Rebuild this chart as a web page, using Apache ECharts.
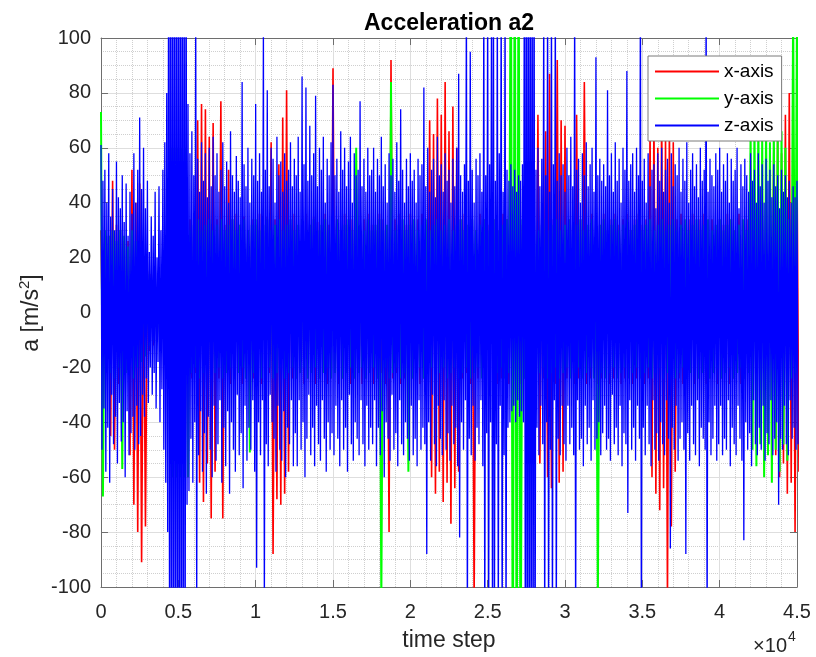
<!DOCTYPE html>
<html><head><meta charset="utf-8">
<script src="https://cdn.jsdelivr.net/npm/echarts@6/dist/echarts.min.js"></script>
<style>html,body{margin:0;padding:0;background:#fff}#c{width:816px;height:657px}</style>
</head><body><div id="c"></div>
<script>
// time steps between envelope samples (each sample: a peak, then a trough half a step later)
const zStep = 125;   // z-axis samples
const xyStep = 250;  // x-axis / y-axis samples
const xTickLabels = ['0','0.5','1','1.5','2','2.5','3','3.5','4','4.5'];
const seriesNames = ['x-axis','y-axis','z-axis'];
const seriesColors = ['#ff0000','#00ff00','#0000ff'];

// z-axis (blue) peaks / troughs, one value every 125 time steps
const zHi = [61,48,52,40,58,35,45,30,55,42,38,50,33,47,28,44,36,58,40,52,
 71,45,60,38,48,22,35,28,44,20,46,30,52,62,80,150,150,150,150,150,
 150,150,150,150,150,76,58,66,50,110,56,44,62,48,58,42,60,46,64,50,
 58,44,52,62,46,55,40,66,50,44,57,48,42,84,54,46,60,40,56,50,
 76,48,58,44,105,52,81,46,60,56,40,64,50,55,44,58,48,52,62,46,
 56,50,64,44,86,54,82,48,68,50,58,79,46,60,52,64,40,56,50,62,
 83,50,56,44,66,52,60,46,55,64,40,58,50,52,77,46,56,44,60,50,
 52,60,44,56,50,64,46,54,40,58,50,56,44,62,48,74,52,40,56,46,
 58,48,52,40,56,50,54,82,46,60,44,52,56,42,64,50,54,44,58,48,
 52,40,56,46,60,87,50,44,54,120,48,95,52,40,56,50,58,44,120,50,
 120,54,120,120,48,120,58,120,44,120,52,48,54,46,52,44,50,48,54,150,
 150,150,150,150,150,52,60,46,56,120,50,120,44,120,54,120,48,58,50,54,
 44,60,50,64,46,120,52,56,40,58,50,62,46,54,60,44,93,50,56,48,
 54,46,81,50,58,44,62,48,56,40,60,52,88,48,54,58,44,60,50,120,
 48,56,40,58,46,52,54,38,58,48,60,44,52,56,40,58,46,54,50,60,
 44,56,48,62,40,52,58,46,54,42,60,48,52,120,44,56,50,46,58,52,
 60,44,54,48,58,40,56,48,52,60,38,54,46,56,50,44,58,48,52,40,
 58,46,54,40,56,48,52,42,54,46,50,38,52,44,50,42,48,40,46,42,
 48];
const zLo = [-50,-35,-58,-42,-62,-30,-48,-38,-55,-33,-47,-40,-60,-36,-52,-44,-38,-50,-34,-48,
 -45,-30,-38,-24,-33,-20,-30,-22,-35,-18,-40,-28,-50,-62,-80,-150,-150,-150,-150,-150,
 -150,-150,-150,-150,-70,-65,-46,-62,-40,-110,-52,-36,-58,-44,-66,-38,-50,-60,-34,-54,
 -48,-32,-62,-42,-56,-36,-66,-40,-50,-58,-30,-52,-44,-64,-34,-54,-42,-50,-32,-58,
 -93,-40,-52,-32,-110,-48,-56,-30,-40,-46,-58,-34,-50,-54,-36,-60,-42,-48,-32,-56,
 -44,-56,-32,-50,-40,-60,-46,-30,-52,-42,-56,-34,-48,-54,-32,-46,-58,-40,-50,-44,
 -52,-34,-46,-56,-32,-50,-42,-58,-30,-48,-54,-40,-46,-52,-32,-48,-56,-34,-50,-42,
 -48,-32,-56,-42,-52,-36,-60,-40,-46,-54,-30,-50,-44,-56,-32,-48,-52,-40,-46,-54,
 -34,-52,-46,-56,-32,-50,-42,-48,-88,-40,-54,-30,-48,-56,-34,-46,-52,-32,-50,-44,
 -54,-34,-48,-42,-56,-82,-40,-50,-32,-120,-46,-52,-34,-54,-42,-48,-32,-56,-120,-44,
 -120,-40,-120,-120,-48,-120,-34,-120,-52,-120,-42,-40,-36,-34,-40,-32,-38,-36,-40,-150,
 -150,-150,-150,-150,-150,-42,-52,-34,-48,-120,-40,-120,-50,-120,-32,-120,-46,-52,-34,-48,
 -54,-34,-48,-42,-52,-120,-32,-50,-46,-56,-34,-48,-42,-54,-32,-50,-46,-40,-52,-44,
 -34,-50,-46,-54,-30,-48,-42,-52,-34,-56,-44,-48,-73,-32,-50,-42,-54,-34,-46,-120,
 -42,-52,-34,-48,-56,-32,-50,-44,-54,-40,-48,-52,-32,-46,-86,-42,-50,-34,-54,-46,
 -40,-50,-88,-44,-54,-34,-48,-52,-32,-56,-42,-46,-50,-120,-40,-52,-46,-34,-54,-48,
 -34,-52,-46,-50,-32,-56,-42,-48,-52,-34,-46,-54,-83,-40,-50,-44,-56,-32,-48,-52,
 -42,-50,-34,-54,-44,-48,-32,-52,-46,-40,-70,-46,-50,-34,-48,-52,-32,-46,-42,-50,
 -48];

// x-axis (red), one value every 250 time steps
const xHi = [30,28,28,48,32,30,26,26,52,40,
 47,20,15,14,12,15,14,20,60,60,
 60,60,60,34,36,70,76,74,64,69,
 34,77,32,52,34,36,32,35,30,34,
 32,36,30,35,62,34,54,71,81,32,
 36,30,34,36,32,35,33,30,36,32,
 89,34,30,36,32,34,36,30,34,36,
 32,30,36,34,30,92,34,36,30,32,
 36,30,34,36,32,70,65,78,72,84,
 66,75,60,34,36,32,34,30,36,34,
 32,36,34,30,36,34,30,36,34,32,
 36,34,30,72,36,66,87,34,92,70,
 68,34,32,72,34,84,30,36,34,32,
 36,30,34,36,32,34,36,30,34,36,
 32,34,66,72,60,75,64,70,62,34,
 36,32,34,36,30,34,36,32,34,30,
 34,32,36,34,30,36,32,34,36,30,
 34,36,32,34,60,66,58,72,80,68,
 55];
const xLo = [-24,-22,-45,-50,-26,-24,-22,-52,-70,-80,
 -91,-78,-14,-12,-10,-12,-13,-18,-60,-60,
 -60,-60,-60,-24,-22,-62,-69,-55,-75,-58,
 -24,-75,-22,-26,-24,-22,-26,-24,-22,-24,
 -22,-26,-24,-22,-88,-68,-70,-66,-58,-24,
 -24,-22,-26,-24,-22,-26,-24,-22,-26,-24,
 -22,-26,-24,-22,-26,-24,-22,-26,-24,-22,
 -26,-24,-22,-26,-80,-24,-22,-26,-24,-22,
 -24,-22,-26,-24,-22,-60,-66,-58,-69,-62,
 -77,-64,-58,-24,-22,-26,-105,-24,-22,-26,
 -24,-22,-26,-24,-22,-26,-24,-22,-26,-24,
 -22,-26,-24,-55,-24,-60,-64,-26,-62,-58,
 -24,-22,-26,-24,-22,-26,-24,-22,-26,-24,
 -22,-26,-24,-22,-26,-24,-22,-26,-24,-22,
 -26,-24,-60,-66,-72,-64,-105,-78,-58,-24,
 -26,-24,-22,-26,-24,-22,-26,-24,-22,-26,
 -24,-22,-26,-24,-22,-26,-24,-22,-26,-24,
 -22,-26,-24,-22,-52,-60,-55,-66,-62,-80,
 -58];

// y-axis (green), one value every 250 time steps
const yHi = [73,30,28,30,26,30,28,24,30,26,
 24,18,14,12,10,13,12,18,60,60,
 60,60,60,30,32,34,30,32,34,30,
 32,34,30,32,34,30,32,34,30,32,
 34,30,32,34,30,32,34,30,32,34,
 30,32,34,30,32,34,30,32,34,30,
 32,34,30,32,34,30,60,32,30,34,
 30,32,34,30,32,84,30,32,34,30,
 32,34,30,32,34,30,32,34,30,32,
 34,30,32,34,30,32,34,30,32,34,
 30,32,34,30,32,34,150,150,150,34,
 30,32,34,30,32,34,30,32,34,30,
 32,34,30,32,34,30,32,34,30,32,
 34,30,32,34,30,32,34,30,32,34,
 30,32,34,30,32,34,30,32,34,30,
 32,34,30,32,34,30,32,34,30,32,
 34,30,32,34,30,32,34,30,66,70,
 72,64,70,62,68,64,66,60,34,110,
 110];
const yLo = [-67,-20,-22,-24,-20,-57,-22,-18,-24,-20,
 -18,-16,-12,-10,-9,-11,-12,-16,-60,-60,
 -60,-60,-60,-22,-20,-24,-22,-20,-24,-22,
 -20,-24,-22,-20,-24,-22,-20,-24,-51,-22,
 -20,-24,-22,-20,-24,-22,-20,-24,-22,-20,
 -24,-22,-20,-24,-22,-20,-24,-22,-20,-24,
 -22,-20,-24,-22,-20,-24,-22,-20,-24,-22,
 -20,-24,-105,-20,-24,-22,-20,-24,-22,-58,
 -24,-22,-20,-24,-22,-20,-24,-22,-20,-24,
 -22,-20,-24,-22,-20,-24,-22,-20,-24,-22,
 -20,-24,-22,-20,-24,-22,-150,-150,-150,-24,
 -22,-20,-24,-22,-20,-24,-22,-20,-24,-22,
 -20,-24,-22,-20,-24,-22,-20,-24,-105,-22,
 -24,-22,-20,-24,-22,-20,-24,-22,-20,-24,
 -22,-20,-24,-22,-20,-24,-22,-20,-24,-22,
 -20,-24,-22,-20,-24,-22,-20,-24,-22,-20,
 -24,-22,-20,-24,-22,-20,-24,-22,-50,-56,
 -48,-60,-52,-62,-50,-58,-48,-54,-24,-22,
 -20];

const FONT = "'Liberation Sans', Arial, Helvetica, sans-serif";
const AX = '#6e6e6e', TXT = '#262626';

function zigzag(hi, lo, step) {
  const d = [];
  for (let i = 0; i < hi.length; i++) {
    d.push([i * step, hi[i]]);
    d.push([i * step + step / 2, lo[i]]);
  }
  return d;
}
function lineSeries(k, data, w) {
  const color = seriesColors[k];
  return { name: seriesNames[k], type: 'line', data, symbol: 'none', showSymbol: false,
    silent: true, animation: false, clip: true,
    lineStyle: { color, width: w }, itemStyle: { color } };
}

const baseX = { type: 'value', min: 0, max: 45000, interval: 5000 };
const baseY = { type: 'value', min: -100, max: 100, interval: 20 };

const chart = echarts.init(document.getElementById('c'), null, { renderer: 'canvas' });
chart.setOption({
  animation: false,
  backgroundColor: '#ffffff',
  grid: { left: 101, right: 19, top: 38, bottom: 70, show: false },
  xAxis: [
    Object.assign({}, baseX, {
      position: 'bottom',
      axisLine: { show: true, onZero: false, lineStyle: { color: AX, width: 1 } },
      axisTick: { show: true, inside: true, length: 7, lineStyle: { color: AX } },
      axisLabel: { show: true, margin: 15, fontSize: 20, color: TXT, fontFamily: FONT,
        formatter: v => xTickLabels[Math.round(v / 5000)], showMaxLabel: true, showMinLabel: true },
      splitLine: { show: true, lineStyle: { color: '#dedede', width: 1 } },
      minorTick: { show: false, splitNumber: 5 },
      minorSplitLine: { show: true, lineStyle: { color: '#cfcfcf', type: 'dotted', width: 1 } }
    }),
    Object.assign({}, baseX, {
      position: 'top',
      axisLine: { show: true, onZero: false, lineStyle: { color: AX, width: 1 } },
      axisTick: { show: true, inside: true, length: 7, lineStyle: { color: AX } },
      axisLabel: { show: false }, splitLine: { show: false }
    })
  ],
  yAxis: [
    Object.assign({}, baseY, {
      position: 'left',
      axisLine: { show: true, onZero: false, lineStyle: { color: AX, width: 1 } },
      axisTick: { show: true, inside: true, length: 7, lineStyle: { color: AX } },
      axisLabel: { show: true, margin: 10, fontSize: 20, color: TXT, fontFamily: FONT },
      splitLine: { show: true, lineStyle: { color: '#dedede', width: 1 } },
      minorTick: { show: false, splitNumber: 4 },
      minorSplitLine: { show: true, lineStyle: { color: '#cfcfcf', type: 'dotted', width: 1 } }
    }),
    Object.assign({}, baseY, {
      position: 'right',
      axisLine: { show: true, onZero: false, lineStyle: { color: AX, width: 1 } },
      axisTick: { show: true, inside: true, length: 7, lineStyle: { color: AX } },
      axisLabel: { show: false }, splitLine: { show: false }
    })
  ],
  legend: {
    data: seriesNames,
    orient: 'vertical', left: 648, top: 56,
    padding: [6, 8, 6, 6], itemGap: 8, itemWidth: 64, itemHeight: 14,
    itemStyle: { opacity: 0 },
    backgroundColor: '#ffffff', borderColor: '#7a7a7a', borderWidth: 1, borderRadius: 0,
    textStyle: { fontSize: 19, color: '#000', fontFamily: FONT },
    selectedMode: false
  },
  graphic: [
    { type: 'text', x: 449, y: 24, silent: true,
      style: { text: 'Acceleration a2', fontSize: 23, fontWeight: 'bold', fontFamily: FONT,
        fill: '#000', align: 'center', verticalAlign: 'middle' } },
    { type: 'text', x: 449, y: 641, silent: true,
      style: { text: 'time step', fontSize: 23, fontFamily: FONT, fill: TXT,
        align: 'center', verticalAlign: 'middle' } },
    { type: 'text', x: 787, y: 646.5, silent: true,
      style: { text: '×10', fontSize: 20, fontFamily: FONT, fill: TXT,
        align: 'right', verticalAlign: 'middle' } },
    { type: 'text', x: 788, y: 637, silent: true,
      style: { text: '4', fontSize: 14, fontFamily: FONT, fill: TXT,
        align: 'left', verticalAlign: 'middle' } },
    { type: 'text', x: 30, y: 313, rotation: Math.PI / 2, silent: true,
      style: { text: '{n|a [m/s}{s|2}{n|]}', align: 'center', verticalAlign: 'middle', fill: TXT,
        rich: { n: { fontSize: 23, fontFamily: FONT, fill: TXT, lineHeight: 26, verticalAlign: 'bottom' },
                s: { fontSize: 15, fontFamily: FONT, fill: TXT, lineHeight: 26, verticalAlign: 'top' } } } }
  ],
  series: [
    lineSeries(0, zigzag(xHi, xLo, xyStep), 1.6),
    lineSeries(1, zigzag(yHi, yLo, xyStep), 2),
    lineSeries(2, zigzag(zHi, zLo, zStep), 1.3)
  ]
});
</script></body></html>
